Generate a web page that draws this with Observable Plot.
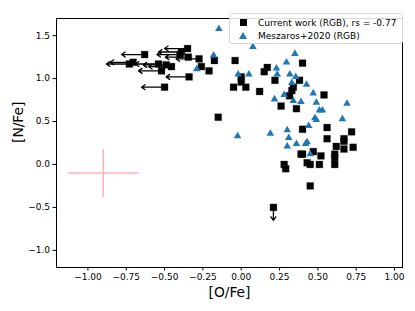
<!DOCTYPE html>
<html><head>
<meta charset="utf-8">
<script src="https://cdn.jsdelivr.net/npm/d3@7"></script>
<script src="https://cdn.jsdelivr.net/npm/@observablehq/plot@0.6"></script>
<style>
body{margin:0;background:#fff;}
#wrap{position:relative;width:415px;height:311px;font-family:"DejaVu Sans",sans-serif;}
.legend{position:absolute;left:229px;top:13px;width:172px;height:29px;border:1px solid #d6d6d6;border-radius:3px;background:rgba(255,255,255,0.85);font-size:9px;color:#000;}
.legend .row{position:absolute;left:0;height:12px;line-height:12px;white-space:nowrap;}
.legend .sq{position:absolute;left:10px;top:2.5px;width:7px;height:7px;background:#000;}
.legend .tri{position:absolute;left:9px;top:2px;width:0;height:0;border-left:4px solid transparent;border-right:4px solid transparent;border-bottom:7px solid #1f77b4;}
.legend .lbl{position:absolute;left:28px;top:0;}
</style></head>
<body><div id="wrap"></div>
<script>
// Current work (RGB): measured points [O/Fe], [N/Fe]
const currentX = [-0.26,-0.21,-0.175,-0.04,-0.05,0.0,0.0,0.03,-0.15,0.40,0.17,0.15,0.12,0.22,0.38,0.34,0.33,0.315,0.54,0.26,0.36,0.40,0.56,0.72,0.56,0.67,0.67,0.62,0.73,0.67,0.47,0.39,0.40,0.52,0.61,0.61,0.61,0.43,0.45,0.51,0.28,0.29,0.45];
const currentY = [1.14,1.09,1.21,1.21,0.90,1.02,0.96,0.90,0.55,1.18,1.13,1.08,0.85,0.98,0.98,0.90,0.86,0.80,0.81,0.68,0.65,0.41,0.43,0.38,0.30,0.30,0.27,0.21,0.20,0.18,0.15,0.12,0.12,0.10,0.12,0.08,0.0,0.02,0.0,0.0,0.0,-0.05,-0.25];
// Current work: upper limits in [O/Fe]
const limitX = [-0.35,-0.39,-0.40,-0.63,-0.345,-0.275,-0.705,-0.73,-0.54,-0.49,-0.455,-0.52,-0.34,-0.50];
const limitY = [1.35,1.31,1.28,1.28,1.25,1.23,1.19,1.17,1.17,1.16,1.14,1.09,1.02,0.90];
// Current work: upper limit in [N/Fe]
const nLimitX = [0.21];
const nLimitY = [-0.50];
const arrowLen = 0.15;
// Meszaros+2020 (RGB)
const meszX = [-0.146,-0.18,-0.29,-0.02,0.05,0.076,0.35,0.295,0.23,0.235,0.317,0.356,0.33,0.426,0.47,0.28,0.217,0.34,0.39,0.49,0.69,0.51,0.53,0.48,0.49,0.66,0.44,0.30,-0.024,0.19,0.31,0.30,0.36,0.42,0.43,0.45];
const meszY = [1.58,1.27,1.11,1.05,1.05,1.37,1.29,1.19,1.12,1.05,1.05,1.02,0.95,0.93,0.83,0.81,0.76,0.74,0.73,0.72,0.71,0.63,0.63,0.54,0.52,0.53,0.45,0.40,0.33,0.36,0.31,0.21,0.24,0.24,0.26,0.12];
// Typical error bar
const errX = [-0.90], errY = [-0.10], errXerr = [0.23], errYerr = [0.28];
const xTicks = [-1.0,-0.75,-0.5,-0.25,0,0.25,0.5,0.75,1.0];
const yTicks = [-1.0,-0.5,0,0.5,1.0,1.5];

const cur = currentX.map((x,i)=>({x, y: currentY[i]}));
const lim = limitX.map((x,i)=>({x, y: limitY[i]}));
const nlim = nLimitX.map((x,i)=>({x, y: nLimitY[i]}));
const mesz = meszX.map((x,i)=>({x, y: meszY[i]}));
const errH = errX.map((x,i)=>({x1: x-errXerr[i], x2: x+errXerr[i], y1: errY[i], y2: errY[i]}));
const errV = errX.map((x,i)=>({x1: x, x2: x, y1: errY[i]-errYerr[i], y2: errY[i]+errYerr[i]}));

const plot = Plot.plot({
  width: 415, height: 311,
  marginLeft: 56, marginRight: 13, marginTop: 18, marginBottom: 44,
  style: {fontFamily: "DejaVu Sans", fontSize: "9px", background: "#fff", color: "#000"},
  x: {domain: [-1.205, 1.052]},
  y: {domain: [-1.2, 1.7]},
  marks: [
    Plot.link(errH, {x1:"x1", x2:"x2", y1:"y1", y2:"y2", stroke:"#ffb3b8", strokeWidth:1.5}),
    Plot.link(errV, {x1:"x1", x2:"x2", y1:"y1", y2:"y2", stroke:"#ffb3b8", strokeWidth:1.5}),
    Plot.arrow(lim, {x1:"x", y1:"y", x2: d=>d.x-arrowLen, y2:"y", stroke:"black", strokeWidth:1.3, headLength:5, headAngle:70}),
    Plot.arrow(nlim, {x1:"x", y1:"y", x2:"x", y2: d=>d.y-arrowLen, stroke:"black", strokeWidth:1.3, headLength:5, headAngle:70}),
    Plot.dot(cur, {x:"x", y:"y", symbol:"square", r:3.9, fill:"black", stroke:"#333", strokeWidth:0.3}),
    Plot.dot(lim, {x:"x", y:"y", symbol:"square", r:3.9, fill:"black", stroke:"#333", strokeWidth:0.3}),
    Plot.dot(nlim, {x:"x", y:"y", symbol:"square", r:3.9, fill:"black", stroke:"#333", strokeWidth:0.3}),
    Plot.dot(mesz, {x:"x", y:"y", symbol:"triangle", r:2.8, fill:"#1f77b4"}),
    Plot.frame({stroke:"black", strokeWidth:1}),
    Plot.axisX({ticks: xTicks, tickFormat: d3.format(".2f"), tickSize: 3.5, tickPadding: 3, label: null, fontSize: 9}),
    Plot.axisY({ticks: yTicks, tickFormat: d3.format(".1f"), tickSize: 3.5, tickPadding: 3, label: null, fontSize: 9}),
    Plot.text(["[O/Fe]"], {frameAnchor:"bottom", dy: 29, fontSize: 13.8, text: d=>d}),
    Plot.text(["[N/Fe]"], {frameAnchor:"left", dx: -38, rotate: -90, fontSize: 13.8, text: d=>d})
  ]
});
const wrap = document.getElementById("wrap");
wrap.appendChild(plot);
const leg = document.createElement("div");
leg.className = "legend";
leg.innerHTML = '<div class="row" style="top:2.5px"><span class="sq"></span><span class="lbl">Current work (RGB), rs = -0.77</span></div>' +
  '<div class="row" style="top:15.5px"><span class="tri"></span><span class="lbl">Meszaros+2020 (RGB)</span></div>';
wrap.appendChild(leg);
</script>
</body></html>
